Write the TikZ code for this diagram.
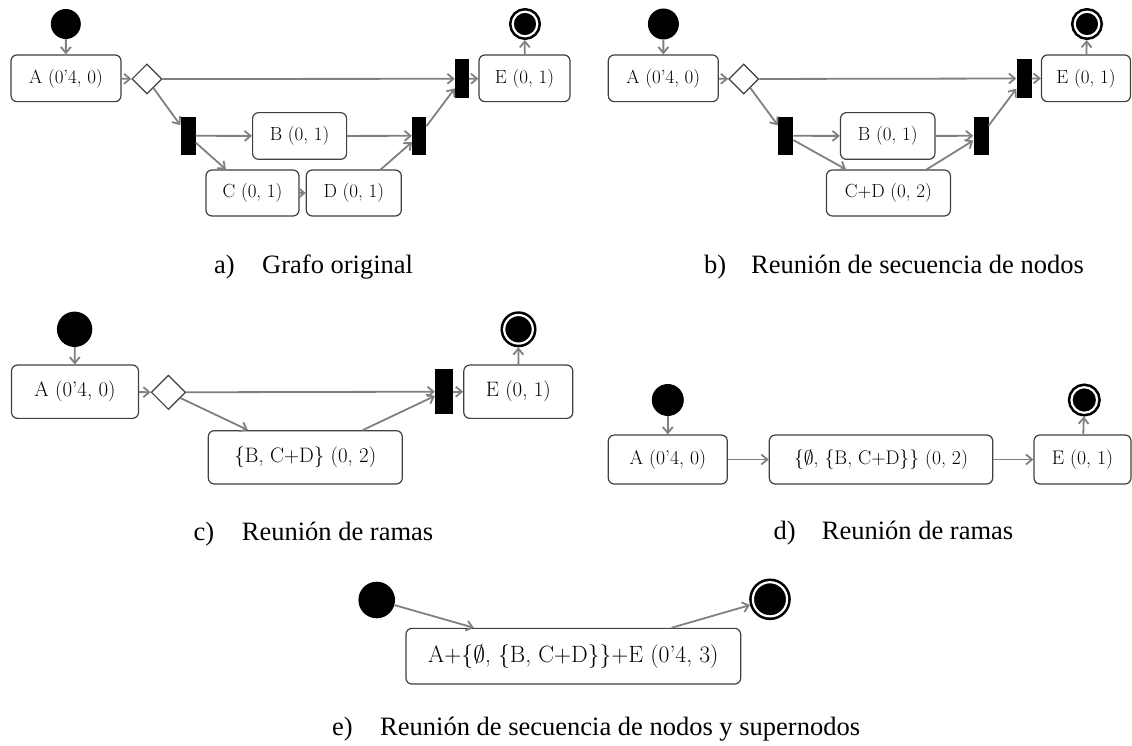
\RequirePackage{fix-cm}
\documentclass[tikz,border=0pt]{standalone}
\usepackage{fontspec}
\newfontfamily\capfont{Liberation Serif}
\usetikzlibrary{arrows.meta,shapes.geometric}
\tikzset{
  act/.style={draw=black!75, line width=1.2pt, rounded corners=6pt, fill=white,
    inner sep=0pt, font=\fontsize{#1}{#1}\selectfont},
  act/.default=19,
  ini/.style={circle, fill=black, inner sep=0pt, minimum size=#1},
  fin/.style={circle, fill=black, draw=black, line width=2.6pt, double=white,
    double distance=2.2pt, inner sep=0pt, outer sep=3.7pt, minimum size=#1},
  bar/.style={fill=black, inner sep=0pt, minimum width=14pt, minimum height=#1},
  dec/.style={diamond, aspect=1, draw=black!75, line width=1.2pt, fill=white,
    inner sep=0pt, minimum width=#1, minimum height=#1},
  flow/.style={-{Straight Barb[length=6pt,width=10pt]}, draw=gray, line width=1.8pt},
  captxt/.style={font=\capfont\fontsize{26.5}{30}\selectfont, inner sep=0pt, anchor=base west}
}
\begin{document}
\begin{tikzpicture}[x=1pt, y=-1pt]
  \useasboundingbox (0,0) rectangle (1132,746);
  % a) grafo original
  \node[ini=30pt] (ia) at (65.8,24) {};
  \node[act, minimum width=110pt, minimum height=46.7pt] (Aa) at (66,78.3) {A (0'4, 0)};
  \node[dec=30pt] (da) at (146.9,79) {};
  \node[bar=39pt] (j1a) at (462,78.8) {};
  \node[act, minimum width=91pt, minimum height=46.7pt] (Ea) at (524.5,78.3) {E (0, 1)};
  \node[fin=24.6pt] (fa) at (525,24) {};
  \node[bar=38.3pt, minimum width=15pt] (j2a) at (188,135.8) {};
  \node[act, minimum width=94pt, minimum height=46.7pt] (Ba) at (299.6,136) {B (0, 1)};
  \node[bar=38.3pt] (j3a) at (419.2,135.8) {};
  \node[act, minimum width=93pt, minimum height=46pt] (Ca) at (252.5,193) {C (0, 1)};
  \node[act, minimum width=95pt, minimum height=46pt] (Da) at (353.8,193) {D (0, 1)};
  \draw[flow] (ia) -- (Aa);
  \draw[flow] (Aa) -- (da);
  \draw[flow] (da) -- (j1a);
  \draw[flow] (j1a) -- (Ea);
  \draw[flow] (Ea) -- (fa);
  \draw[flow] (da) -- (j2a);
  \draw[flow] (j2a) -- (Ba);
  \draw[flow] (j2a) -- (Ca);
  \draw[flow] (Ba) -- (j3a);
  \draw[flow] (Ca) -- (Da);
  \draw[flow] (Da) -- (j3a);
  \draw[flow] (j3a) -- (j1a);
  \node[captxt] (ka) at (214,273) {a)};
  \node[captxt] (ta) at (262,273) {Grafo original};

  % b) secuencia C, D reunida
  \node[ini=31pt] (ib) at (663.4,24) {};
  \node[act, minimum width=110pt, minimum height=46.7pt] (Ab) at (663.3,78.3) {A (0'4, 0)};
  \node[dec=30pt] (db) at (743.7,79) {};
  \node[bar=38.4pt, minimum width=15pt] (j1b) at (1024,78.5) {};
  \node[act, minimum width=89pt, minimum height=46.7pt] (Eb) at (1086,78.3) {E (0, 1)};
  \node[fin=24.6pt] (fb) at (1087,24) {};
  \node[bar=38.3pt, minimum width=15pt] (j2b) at (785.6,135.8) {};
  \node[act, minimum width=94.4pt, minimum height=46.7pt] (Bb) at (887.7,136) {B (0, 1)};
  \node[bar=38.3pt, minimum width=15pt] (j3b) at (981,135.8) {};
  \node[act, minimum width=124pt, minimum height=46pt] (CDb) at (888.4,193) {C+D (0, 2)};
  \draw[flow] (ib) -- (Ab);
  \draw[flow] (Ab) -- (db);
  \draw[flow] (db) -- (j1b);
  \draw[flow] (j1b) -- (Eb);
  \draw[flow] (Eb) -- (fb);
  \draw[flow] (db) -- (j2b);
  \draw[flow] (j2b) -- (Bb);
  \draw[flow] (j2b) -- (CDb);
  \draw[flow] (Bb) -- (j3b);
  \draw[flow] (CDb) -- (j3b);
  \draw[flow] (j3b) -- (j1b);
  \node[captxt] (kb) at (704,273) {b)};
  \node[captxt] (tb) at (751,273) {Reunión de secuencia de nodos};

  % c) ramas reunidas
  \node[ini=35.4pt] (ic) at (74.6,329.3) {};
  \node[act=20.9, minimum width=127pt, minimum height=53.3pt] (Ac) at (75,391.7) {A (0'4, 0)};
  \node[dec=34.4pt] (dc) at (168.4,392.3) {};
  \node[bar=44.7pt, minimum width=17.6pt] (jc) at (443.9,391.7) {};
  \node[act=20.9, minimum width=109pt, minimum height=53.3pt] (Ec) at (518.3,391.7) {E (0, 1)};
  \node[fin=28.6pt] (fc) at (518.5,329.3) {};
  \node[act=20.9, minimum width=194pt, minimum height=53.3pt] (BCDc) at (305.3,457.3) {\{B, C+D\} (0, 2)};
  \draw[flow] (ic) -- (Ac);
  \draw[flow] (Ac) -- (dc);
  \draw[flow] (dc) -- (jc);
  \draw[flow] (jc) -- (Ec);
  \draw[flow] (Ec) -- (fc);
  \draw[flow] (dc) -- (BCDc);
  \draw[flow] (BCDc) -- (jc);
  \node[captxt] (kc) at (193.3,540) {c)};
  \node[captxt] (tc) at (241.7,540) {Reunión de ramas};

  % d) rama vacia reunida
  \node[ini=32pt] (id) at (667.8,400) {};
  \node[act=19.7, minimum width=119pt, minimum height=49pt] (Ad) at (667.8,459.5) {A (0'4, 0)};
  \node[act=19.7, minimum width=223.4pt, minimum height=49pt] (Md) at (881,459.5) {\{$\emptyset$, \{B, C+D\}\} (0, 2)};
  \node[act=19.7, minimum width=97pt, minimum height=49pt] (Ed) at (1082.5,459.5) {E (0, 1)};
  \node[fin=25.6pt] (fd) at (1084.3,400) {};
  \draw[flow] (id) -- (Ad);
  \draw[flow] (Ad) -- (Md);
  \draw[flow] (Md) -- (Ed);
  \draw[flow] (Ed) -- (fd);
  \node[captxt] (kd) at (773.3,539) {d)};
  \node[captxt] (td) at (821.7,539) {Reunión de ramas};

  % e) supernodo final
  \node[ini=36.6pt] (ie) at (376.7,600) {};
  \node[act=23.6, minimum width=334.7pt, minimum height=55.7pt] (Se) at (573.3,656.2) {A+\{$\emptyset$, \{B, C+D\}\}+E (0'4, 3)};
  \node[fin=34.2pt] (fe) at (770,599.3) {};
  \draw[flow] (ie) -- (Se);
  \draw[flow] (Se) -- (fe);
  \node[captxt] (ke) at (332,735) {e)};
  \node[captxt] (te) at (380,735) {Reunión de secuencia de nodos y supernodos};
\end{tikzpicture}
\end{document}
